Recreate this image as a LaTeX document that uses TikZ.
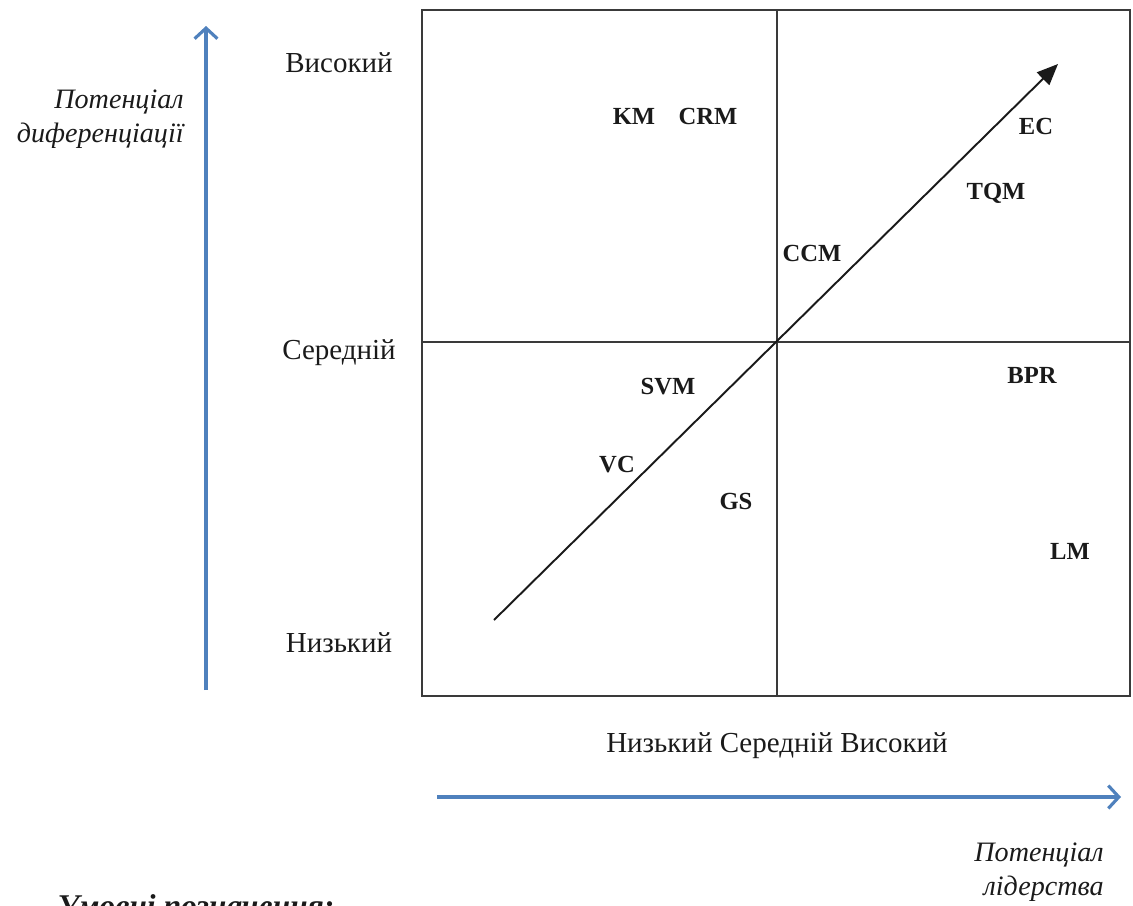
\documentclass[tikz,border=0pt]{standalone}
\usepackage{fontspec}
\setmainfont{Liberation Serif}
\usetikzlibrary{arrows.meta}
\definecolor{axisblue}{HTML}{4F81BD}
\definecolor{frame}{HTML}{3A3A3A}
\definecolor{ink}{HTML}{1A1A1A}
\tikzset{
  grid/.style={draw=frame, line width=1pt},
  axis/.style={draw=axisblue, line width=1.8pt, -{Straight Barb[length=6pt,width=13pt]}},
  trend/.style={draw=ink, line width=1.1pt, -{Triangle[length=12pt,width=10pt]}},
  lvl/.style={text=ink, inner sep=0pt, font=\fontsize{16.5}{19}\selectfont},
  ttl/.style={text=ink, inner sep=0pt, align=right, font=\fontsize{16}{19}\selectfont\itshape},
  tool/.style={text=ink, inner sep=0pt, font=\fontsize{14}{16}\selectfont\bfseries},
}

\begin{document}
\begin{tikzpicture}[x=0.02cm, y=-0.02cm]
  \useasboundingbox (0,0) rectangle (1133,906);

  % quadrant frame
  \draw[grid] (422,10) rectangle (1130,696);
  \draw[grid] (777,10) -- (777,696);
  \draw[grid] (422,342) -- (1130,342);

  % trend arrow
  \coordinate (tstart) at (494,620);
  \coordinate (tend) at (1058,64);
  \draw[trend] (tstart) -- (tend);

  % vertical axis
  \coordinate (vlow) at (206,690);
  \coordinate (vhigh) at (206,26);
  \draw[axis] (vlow) -- (vhigh);
  \node[ttl, anchor=east] (vtitle) at (184,119) {Потенціал\\диференціації};
  \node[lvl] (hi) at (339,63) {Високий};
  \node[lvl] (mid) at (339,353) {Середній};
  \node[lvl] (lo) at (339,643) {Низький};

  % horizontal axis
  \node[lvl] (hscale) at (777,746) {Низький Середній Високий};
  \coordinate (hlow) at (437,797);
  \coordinate (hhigh) at (1121,797);
  \draw[axis] (hlow) -- (hhigh);
  \node[ttl, anchor=east] (htitle) at (1104,872) {Потенціал\\лідерства};

  % tools
  \node[tool] (km) at (634,116) {KM};
  \node[tool] (crm) at (708,116) {CRM};
  \node[tool] (ec) at (1036,126) {EC};
  \node[tool] (tqm) at (996,193) {TQM};
  \node[tool] (ccm) at (812,253) {CCM};
  \node[tool] (bpr) at (1032,375) {BPR};
  \node[tool] (svm) at (668,387) {SVM};
  \node[tool] (vc) at (617,465) {VC};
  \node[tool] (gs) at (736,501) {GS};
  \node[tool] (lm) at (1070,551) {LM};

  % legend heading, cut by the page edge
  \node[text=ink, inner sep=0pt, anchor=base west, font=\fontsize{18}{20}\selectfont\bfseries\itshape] (legend) at (57,916) {Умовні позначення:};
\end{tikzpicture}
\end{document}
